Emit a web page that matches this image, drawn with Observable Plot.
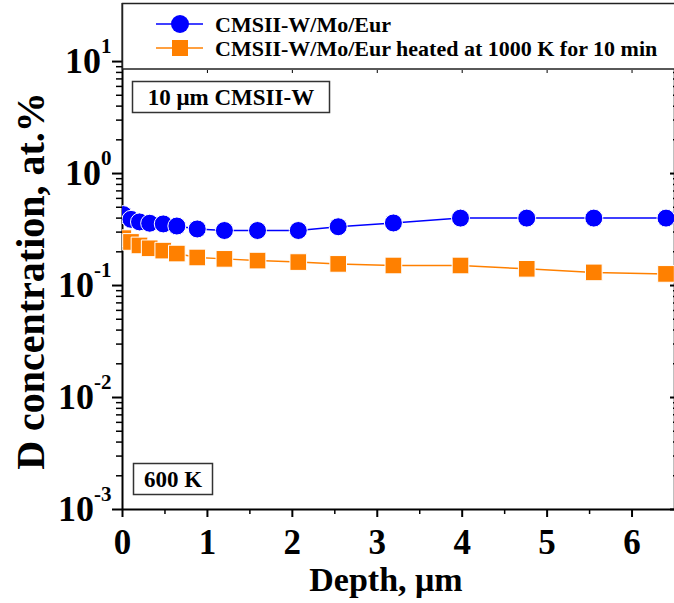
<!DOCTYPE html>
<html><head><meta charset="utf-8">
<script src="https://cdn.jsdelivr.net/npm/d3@7"></script>
<script src="https://cdn.jsdelivr.net/npm/@observablehq/plot@0.6"></script>
<style>
html,body{margin:0;padding:0;background:#fff;}
#chart{position:relative;width:674px;height:603px;overflow:hidden;}
</style>
</head><body><div id="chart"></div>
<script>
// ---- data ----
const depth = [0.01, 0.1, 0.2, 0.32, 0.48, 0.64, 0.88, 1.2, 1.59, 2.07, 2.54, 3.19, 3.98, 4.76, 5.55, 6.4];
const concBlue = [0.43, 0.39, 0.37, 0.36, 0.355, 0.34, 0.32, 0.31, 0.31, 0.31, 0.335, 0.362, 0.40, 0.40, 0.40, 0.40];
const concOrange = [0.265, 0.245, 0.228, 0.215, 0.205, 0.193, 0.178, 0.173, 0.167, 0.162, 0.156, 0.151, 0.151, 0.141, 0.131, 0.127];
const seriesNames = ["CMSII-W/Mo/Eur", "CMSII-W/Mo/Eur heated at 1000 K for 10 min"];
const seriesColors = ["#0000ff", "#ff8000"];
const xTicks = [0, 1, 2, 3, 4, 5, 6];
const xMinorTicks = [0.5, 1.5, 2.5, 3.5, 4.5, 5.5];
const yTicks = [1e-3, 1e-2, 1e-1, 1, 10];
const yMinorTicks = [1e-3, 1e-2, 1e-1, 1].flatMap(d => [2,3,4,5,6,7,8,9].map(k => k * d));
const xTitle = "Depth, \u03bcm";
const yTitle = "D concentration, at.%";
const note1 = "10 \u03bcm CMSII-W";
const note2 = "600 K";

const blue = depth.map((d, i) => ({depth: d, conc: concBlue[i]}));
const orange = depth.map((d, i) => ({depth: d, conc: concOrange[i]}));

const FONT = "'Liberation Serif', 'Times New Roman', serif";

const plot = Plot.plot({
  width: 674,
  height: 603,
  marginLeft: 122,
  marginRight: 0,
  marginTop: 3,
  marginBottom: 94,
  style: {fontFamily: FONT, fontWeight: "bold", background: "white", color: "black"},
  x: {domain: [0, 6.5]},
  y: {type: "log", domain: [1e-3, 33]},
  marks: [
    Plot.ruleX([0], {stroke: "black", strokeWidth: 2}),
    Plot.ruleY([1e-3], {stroke: "black", strokeWidth: 2}),
    Plot.ruleX([6.5], {stroke: "black", strokeWidth: 1.5}),
    // bottom axis
    Plot.axisX({ticks: xTicks, tickSize: 8, tickPadding: 12, strokeWidth: 2, fontSize: 35, tickFormat: d => String(d), label: null}),
    Plot.axisX({ticks: xMinorTicks, tickSize: 5, strokeWidth: 1.5, tickFormat: () => "", label: null}),
    // top small ticks under legend box
    Plot.axisX({anchor: "top", ticks: xTicks, tickSize: -3, dy: 66, strokeWidth: 1, tickFormat: () => "", label: null}),
    // left axis
    Plot.axisY({ticks: yTicks, tickSize: 10, tickPadding: 1, strokeWidth: 2, fontSize: 36, tickFormat: v => String(Math.round(Math.log10(v))), label: null}),
    Plot.axisY({ticks: yMinorTicks, tickSize: 6, strokeWidth: 1.5, tickFormat: () => "", label: null}),
    // right axis (inward)
    Plot.axisY({anchor: "right", ticks: yTicks, tickSize: -5, strokeWidth: 2, tickFormat: () => "", label: null}),
    Plot.axisY({anchor: "right", ticks: yMinorTicks, tickSize: -2, strokeWidth: 1.5, tickFormat: () => "", label: null}),
    // series
    Plot.line(orange, {x: "depth", y: "conc", stroke: seriesColors[1], strokeWidth: 1.5, clip: true}),
    Plot.line(blue, {x: "depth", y: "conc", stroke: seriesColors[0], strokeWidth: 1.5, clip: true}),
    Plot.dot(orange, {x: "depth", y: "conc", symbol: "square", r: 9.4, fill: seriesColors[1], stroke: "white", strokeWidth: 1, clip: true}),
    Plot.dot(blue, {x: "depth", y: "conc", r: 9, fill: seriesColors[0], stroke: "white", strokeWidth: 1, clip: true})
  ]
});

document.getElementById("chart").appendChild(plot);
const svg = d3.select(plot);

// superscript exponents on y tick labels
svg.selectAll('g[aria-label="y-axis tick label"] text').each(function() {
  const t = d3.select(this);
  const e = t.text();
  if (!e) return;
  t.text(null);
  t.append("tspan").text("10");
  t.append("tspan").attr("dy", -20).attr("font-size", 21).text(e);
});

// axis titles
svg.append("text")
  .attr("x", 386).attr("y", 591)
  .attr("text-anchor", "middle")
  .attr("font-family", FONT).attr("font-weight", "bold").attr("font-size", 34)
  .attr("fill", "black")
  .text(xTitle);
svg.append("text")
  .attr("transform", "translate(44,281) rotate(-90)")
  .attr("text-anchor", "middle")
  .attr("font-family", FONT).attr("font-weight", "bold").attr("font-size", 40)
  .attr("fill", "black")
  .text(yTitle);

// legend box
const lg = svg.append("g");
lg.append("rect").attr("x", 122.5).attr("y", 3.5).attr("width", 580).attr("height", 65.5)
  .attr("fill", "white").attr("stroke", "#222").attr("stroke-width", 1.5);
const legendRows = [24, 48];
seriesNames.forEach((name, i) => {
  const y = legendRows[i];
  lg.append("line").attr("x1", 156).attr("x2", 203).attr("y1", y).attr("y2", y)
    .attr("stroke", seriesColors[i]).attr("stroke-width", 1.5);
  if (i === 0) {
    lg.append("ellipse").attr("cx", 180).attr("cy", y).attr("rx", 9).attr("ry", 9).attr("fill", seriesColors[i]);
  } else {
    lg.append("rect").attr("x", 172).attr("y", y - 8).attr("width", 16).attr("height", 16).attr("fill", seriesColors[i]);
  }
  lg.append("text").attr("x", 215).attr("y", y).attr("dy", "0.35em")
    .attr("text-anchor", "start")
    .attr("font-family", FONT).attr("font-weight", "bold").attr("font-size", 22).attr("fill", "black")
    .text(name);
});

// annotation boxes
function note(x, y, w, h, txt) {
  const g = svg.append("g");
  g.append("rect").attr("x", x).attr("y", y).attr("width", w).attr("height", h)
    .attr("fill", "white").attr("stroke", "#333").attr("stroke-width", 1.5);
  g.append("text").attr("x", x + w / 2).attr("y", y + h / 2).attr("dy", "0.35em")
    .attr("text-anchor", "middle")
    .attr("font-family", FONT).attr("font-weight", "bold").attr("font-size", 23).attr("fill", "black")
    .text(txt);
}
note(132.5, 81.5, 197, 31, note1);
note(133.5, 463.5, 79, 31, note2);
</script>
</body></html>
